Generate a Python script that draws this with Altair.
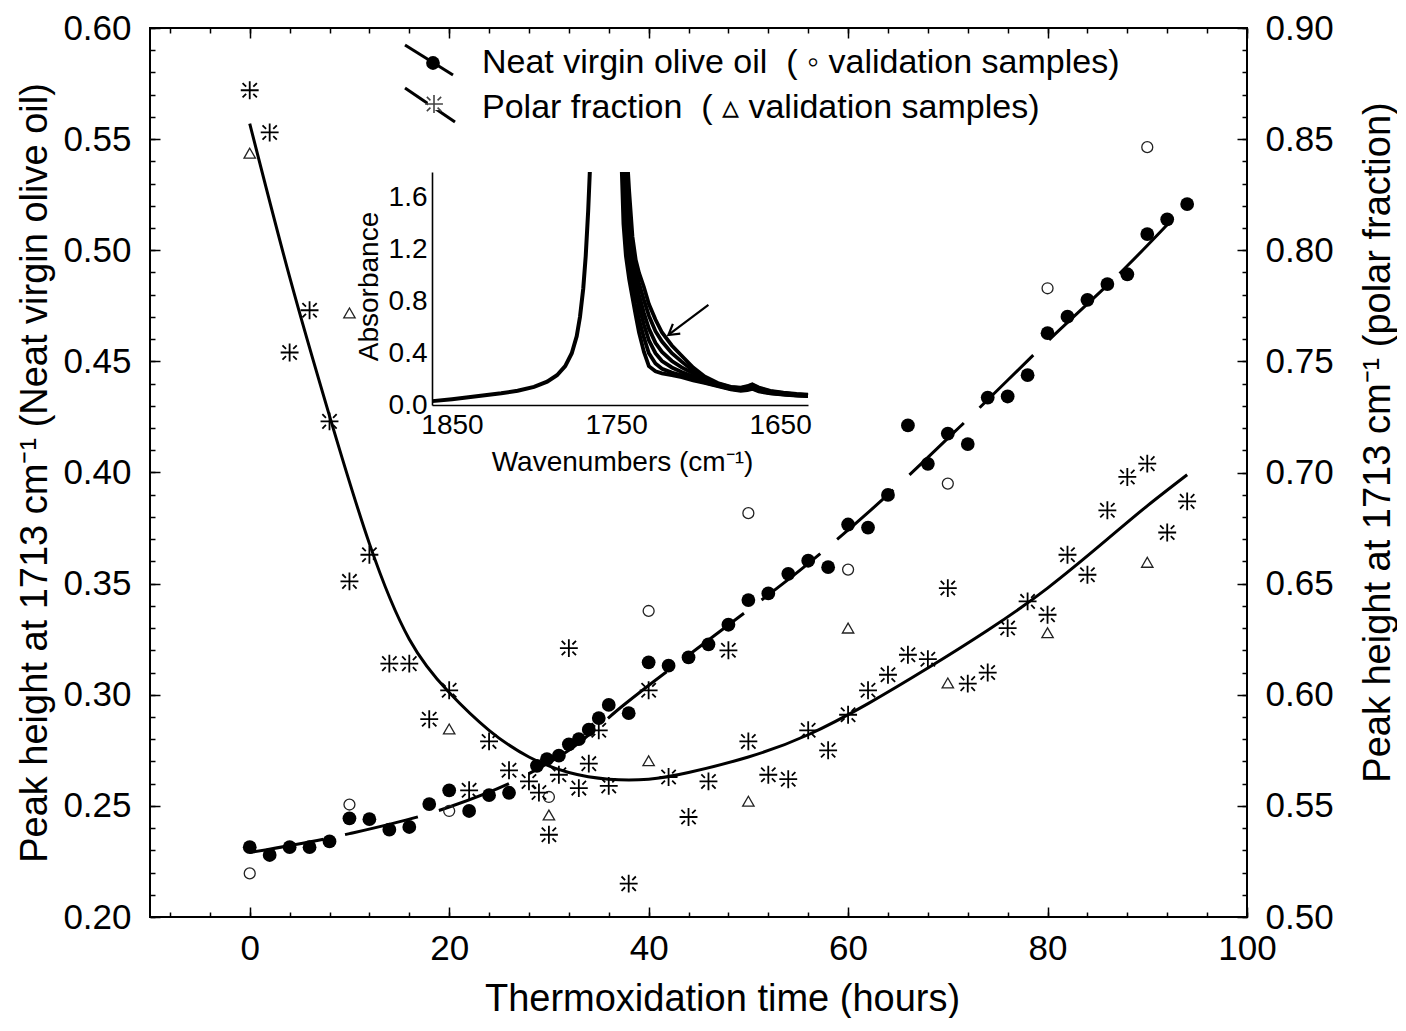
import altair as alt
import pandas as pd

FONT = "Liberation Sans"
W, H = 1097, 889

# ---------------- axes / ticks ----------------
X_DOMAIN = [-10, 100]
YL_DOMAIN = [0.2, 0.6]
YR_DOMAIN = [0.5, 0.9]
X_MINOR_TICKS = list(range(-8, 101, 4))
X_MAJOR_TICKS = [0, 20, 40, 60, 80, 100]
YL_MINOR_TICKS = [round(0.20 + 0.01 * i, 2) for i in range(41)]
YL_MAJOR_TICKS = [0.20, 0.25, 0.30, 0.35, 0.40, 0.45, 0.50, 0.55, 0.60]
YR_MINOR_TICKS = [round(0.50 + 0.01 * i, 2) for i in range(41)]
YR_MAJOR_TICKS = [0.50, 0.55, 0.60, 0.65, 0.70, 0.75, 0.80, 0.85, 0.90]

# ---------------- neat virgin olive oil ----------------
NEAT_T = [0, 2, 4, 6, 8, 10, 12, 14, 16, 18, 20, 22, 24, 26,
          28.8, 29.8, 31, 32, 33, 34, 35, 36,
          38, 40, 42, 44, 46, 48, 50, 52, 54, 56, 58, 60, 62, 64, 66, 68, 70,
          72, 74, 76, 78, 80, 82, 84, 86, 88, 90, 92, 94]
NEAT_Y = [0.2314, 0.2279, 0.2314, 0.2314, 0.234, 0.2444, 0.244, 0.2393, 0.2405, 0.2508,
          0.257, 0.2477, 0.2548, 0.2559,
          0.268, 0.271, 0.2726, 0.2777, 0.28, 0.2843, 0.2895, 0.2954,
          0.2917, 0.3146, 0.3131, 0.3168, 0.3227, 0.3315, 0.3426, 0.3456, 0.3544, 0.3603,
          0.3574, 0.3766, 0.3752, 0.3899, 0.4212, 0.4039, 0.4175, 0.4128, 0.4337, 0.4342,
          0.4438, 0.4627, 0.4701, 0.4777, 0.4848, 0.4892, 0.5073, 0.5139, 0.5208]
NEAT_FIT_T = [0, 10, 20, 28, 32, 37.5, 47, 56, 64, 72, 80, 88, 94]
NEAT_FIT_Y = [0.229, 0.2375, 0.2495, 0.2645, 0.275, 0.2954, 0.328, 0.359, 0.39, 0.424, 0.459, 0.493, 0.521]

# ---------------- polar fraction ----------------
POLAR_T = [0, 2, 4, 6, 8, 10, 12, 14, 16, 18, 20, 22, 24, 26, 28, 29, 30, 31, 32, 33, 34, 35, 36,
           38, 40, 42, 44, 46, 48, 50, 52, 54, 56, 58, 60, 62, 64, 66, 68, 70, 72, 74, 76, 78,
           80, 82, 84, 86, 88, 90, 92, 94]
POLAR_Y = [0.872, 0.853, 0.754, 0.773, 0.723, 0.651, 0.663, 0.614, 0.614, 0.589, 0.602, 0.557,
           0.579, 0.566, 0.561, 0.556, 0.537, 0.564, 0.621, 0.558, 0.569, 0.584, 0.559,
           0.515, 0.602, 0.563, 0.545, 0.561, 0.620, 0.579, 0.564, 0.562, 0.584, 0.575, 0.591,
           0.602, 0.609, 0.618, 0.616, 0.648, 0.605, 0.610, 0.630, 0.642, 0.636, 0.663, 0.654,
           0.683, 0.698, 0.704, 0.673, 0.687]
POLAR_FIT_T = [0, 4, 8, 12, 16, 20, 24, 28, 32, 36, 40, 44, 50, 56, 62, 68, 74, 80, 86, 90, 94]
POLAR_FIT_Y = [0.857, 0.788, 0.7255, 0.668, 0.625, 0.601, 0.584, 0.572, 0.565, 0.562, 0.562,
               0.565, 0.572, 0.582, 0.596, 0.612, 0.629, 0.648, 0.670, 0.685, 0.699]

# ---------------- validation samples ----------------
VAL_T = [0, 10, 20, 30, 40, 50, 60, 70, 80, 90]
VAL_NEAT = [0.2196, 0.2506, 0.2477, 0.254, 0.3377, 0.3817, 0.3563, 0.395, 0.4829, 0.5464]
VAL_POLAR = [0.8437, 0.7718, 0.5846, 0.5459, 0.5703, 0.5521, 0.630, 0.6053, 0.6279, 0.6596]

# ---------------- inset spectra ----------------
INSET_X_DOMAIN = [1862.2, 1633]
INSET_Y_DOMAIN = [0, 1.8]
INSET_X_TICKS = [1850, 1750, 1650]
INSET_Y_TICKS = [0.0, 0.4, 0.8, 1.2, 1.6]
INSET_LEFT_WN = [1862, 1850, 1840, 1830, 1820, 1810, 1800, 1792, 1786, 1781, 1777, 1774,
                 1772, 1770, 1768.5, 1767, 1766]
INSET_LEFT_A = [0.03, 0.045, 0.06, 0.075, 0.09, 0.11, 0.14, 0.18, 0.23, 0.30, 0.40, 0.53,
                0.68, 0.90, 1.15, 1.50, 1.80]
INSET_RIGHT_WN = [1742, 1740, 1738, 1736, 1733, 1730, 1726, 1722, 1716, 1710, 1703, 1696,
                  1688, 1680, 1674, 1670, 1667, 1663, 1656, 1648, 1640, 1633]
CURVE_HEAD_WN = [[1746.5, 1745.5, 1744.0], [1745.8, 1744.5, 1743.0], [1745.0, 1743.5],
                 [1744.3, 1743.0], [1743.5], [1742.7]]
CURVE_HEAD_A = [[1.80, 1.40, 1.15], [1.80, 1.45, 1.20], [1.80, 1.45], [1.80, 1.50], [1.80], [1.80]]
CURVE_TAIL_A = [
    [0.97, 0.83, 0.69, 0.56, 0.41, 0.30, 0.26, 0.245, 0.23, 0.215, 0.19, 0.17, 0.145, 0.12,
     0.11, 0.115, 0.125, 0.105, 0.09, 0.08, 0.072, 0.068],
    [1.10, 0.92, 0.78, 0.66, 0.52, 0.40, 0.32, 0.28, 0.25, 0.23, 0.20, 0.175, 0.15, 0.125,
     0.115, 0.12, 0.13, 0.11, 0.092, 0.082, 0.074, 0.07],
    [1.25, 1.03, 0.88, 0.76, 0.62, 0.50, 0.40, 0.34, 0.29, 0.255, 0.22, 0.185, 0.155, 0.13,
     0.12, 0.125, 0.14, 0.115, 0.095, 0.085, 0.076, 0.072],
    [1.38, 1.12, 0.96, 0.85, 0.71, 0.59, 0.48, 0.41, 0.34, 0.29, 0.245, 0.20, 0.16, 0.133,
     0.125, 0.13, 0.145, 0.12, 0.10, 0.088, 0.078, 0.074],
    [1.50, 1.20, 1.04, 0.94, 0.81, 0.69, 0.57, 0.49, 0.40, 0.335, 0.265, 0.21, 0.165, 0.137,
     0.13, 0.14, 0.155, 0.13, 0.105, 0.092, 0.082, 0.077],
    [1.65, 1.30, 1.12, 1.02, 0.91, 0.78, 0.66, 0.56, 0.46, 0.38, 0.29, 0.22, 0.17, 0.14,
     0.135, 0.145, 0.16, 0.135, 0.11, 0.095, 0.085, 0.08],
]
ARROW_WN = [1693.7, 1718.1]
ARROW_A = [0.773, 0.541]

NB = "\u00a0"
LEGEND_TEXT = ["Neat virgin olive oil" + NB * 2 + "(" + NB + "\u25e6" + NB + "validation samples)",
               "Polar fraction" + NB * 2 + "(" + NB + "\u25b5" + NB + "validation samples)"]

ASTERISK = ("M0,-1L0,1M-1,0L1,0M-0.8,-0.8L-0.4,-0.4M0.4,0.4L0.8,0.8"
            "M0.8,-0.8L0.4,-0.4M-0.4,0.4L-0.8,0.8")
ARROWHEAD = "M-0.6,-1L0,0L0.6,-1"

# ---------------- data frames ----------------
neat_df = pd.DataFrame({"t": NEAT_T, "y": NEAT_Y})
neat_fit_df = pd.DataFrame({"t": NEAT_FIT_T, "y": NEAT_FIT_Y})
polar_df = pd.DataFrame({"t": POLAR_T, "y": POLAR_Y})
polar_fit_df = pd.DataFrame({"t": POLAR_FIT_T, "y": POLAR_FIT_Y})
val_df = pd.DataFrame({"t": VAL_T, "neat": VAL_NEAT, "polar": VAL_POLAR})

left_df = pd.DataFrame({"wn": INSET_LEFT_WN, "a": INSET_LEFT_A})
rows = []
for ci in range(len(CURVE_TAIL_A)):
    wns = CURVE_HEAD_WN[ci] + INSET_RIGHT_WN
    vals = CURVE_HEAD_A[ci] + CURVE_TAIL_A[ci]
    for k, (w_, a_) in enumerate(zip(wns, vals)):
        rows.append({"curve": ci, "wn": w_, "a": a_, "k": k})
right_df = pd.DataFrame(rows)
arrow_df = pd.DataFrame({"wn1": [ARROW_WN[0]], "a1": [ARROW_A[0]],
                         "wn2": [ARROW_WN[1]], "a2": [ARROW_A[1]]})
one = pd.DataFrame({"v": [0]})

# inset frame in plot pixels
IX0, IX1 = 282, 658
IY0, IY1 = 377, 144   # bottom, top

# ---------------- scales ----------------
def xs():
    return alt.Scale(domain=X_DOMAIN, nice=False, zero=False)

def yls():
    return alt.Scale(domain=YL_DOMAIN, nice=False, zero=False)

def yrs():
    return alt.Scale(domain=YR_DOMAIN, nice=False, zero=False)

def ixs():
    return alt.Scale(domain=INSET_X_DOMAIN, range=[IX0, IX1], nice=False, zero=False)

def iys():
    return alt.Scale(domain=INSET_Y_DOMAIN, range=[IY0, IY1], nice=False, zero=False)

LAB_Y = "round(datum.value*100) % 5 == 0 ? format(datum.value, '.2f') : ''"
LAB_X = "datum.value % 20 == 0 ? datum.label : ''"

tick_common = dict(domain=False, grid=False, tickColor="black", tickWidth=1.5)
LFS = 35

ax_bottom = alt.Axis(orient="bottom", values=X_MINOR_TICKS, labelExpr=LAB_X, offset=-5,
                     tickSize=5, labelPadding=14, labelFontSize=LFS, labelOverlap=False,
                     labelFlush=False, title="Thermoxidation time (hours)", titleFontSize=38,
                     titleX=572, titleY=98, titleBaseline="alphabetic", titleAlign="center",
                     **tick_common)
ax_left = alt.Axis(orient="left", values=YL_MINOR_TICKS, labelExpr=LAB_Y, offset=-5,
                   tickSize=5, labelPadding=19, labelFontSize=LFS, labelOverlap=False,
                   labelFlush=False,
                   title="Peak height at 1713 cm\u207b\u00b9 (Neat virgin olive oil)",
                   titleFontSize=38, titleAngle=270, titleX=-109, titleY=H / 2,
                   titleBaseline="alphabetic", titleAlign="center", **tick_common)
ax_bottom_major = alt.Axis(orient="bottom", values=X_MAJOR_TICKS, labels=False, offset=-10,
                           tickSize=10, title="", **tick_common)
ax_left_major = alt.Axis(orient="left", values=YL_MAJOR_TICKS, labels=False, offset=-10,
                         tickSize=10, title="", **tick_common)
ax_top = alt.Axis(orient="top", values=X_MINOR_TICKS, labels=False, offset=-5, tickSize=5,
                  title="", **tick_common)
ax_top_major = alt.Axis(orient="top", values=X_MAJOR_TICKS, labels=False, offset=-10,
                        tickSize=10, title="", **tick_common)
ax_right = alt.Axis(orient="right", values=YR_MINOR_TICKS, labelExpr=LAB_Y, offset=-5,
                    tickSize=5, labelPadding=18, labelFontSize=LFS, labelOverlap=False,
                    labelFlush=False,
                    title="Peak height at 1713 cm\u207b\u00b9 (polar fraction)",
                    titleFontSize=38, titleAngle=270, titleX=147, titleY=414,
                    titleBaseline="alphabetic", titleAlign="center", **tick_common)
ax_right_major = alt.Axis(orient="right", values=YR_MAJOR_TICKS, labels=False, offset=-10,
                          tickSize=10, title="", **tick_common)

ax_inset_x = alt.Axis(orient="bottom", values=INSET_X_TICKS, format="d", offset=-(H - IY0),
                      ticks=False, tickSize=0, labelPadding=6, labelFontSize=28,
                      labelFlush=False, labelOverlap=False, domain=True, domainColor="black",
                      domainWidth=1.6, grid=False, title="Wavenumbers (cm\u207b\u00b9)",
                      titleFontSize=28, titleX=472, titleY=65, titleBaseline="alphabetic",
                      titleAlign="center")
ax_inset_y = alt.Axis(orient="left", values=INSET_Y_TICKS, format=".1f", offset=-IX0,
                      ticks=False, tickSize=0, labelPadding=5, labelFontSize=28,
                      labelFlush=False, labelOverlap=False, domain=True, domainColor="black",
                      domainWidth=1.6, grid=False, title="Absorbance", titleFontSize=28,
                      titleAngle=270, titleX=-55, titleY=258, titleBaseline="alphabetic",
                      titleAlign="center")

# ---------------- layers ----------------
neat_fit = alt.Chart(neat_fit_df).mark_line(
    color="black", strokeWidth=3, strokeDash=[75, 22], interpolate="monotone").encode(
    x=alt.X("t:Q", scale=xs(), axis=ax_bottom),
    y=alt.Y("y:Q", scale=yls(), axis=ax_left))

neat_pts = alt.Chart(neat_df).mark_point(
    shape="circle", filled=True, size=190, color="black", opacity=1).encode(
    x=alt.X("t:Q", scale=xs(), axis=ax_bottom_major),
    y=alt.Y("y:Q", scale=yls(), axis=ax_left_major))

neat_val = alt.Chart(val_df).mark_point(
    shape="circle", filled=False, size=120, color="#222222", strokeWidth=1.3, opacity=1).encode(
    x=alt.X("t:Q", scale=xs(), axis=None),
    y=alt.Y("neat:Q", scale=yls(), axis=None))

polar_fit = alt.Chart(polar_fit_df).mark_line(
    color="black", strokeWidth=3, interpolate="natural").encode(
    x=alt.X("t:Q", scale=xs(), axis=ax_top),
    y=alt.Y("y:Q", scale=yrs(), axis=ax_right))

polar_pts = alt.Chart(polar_df).mark_point(
    shape=ASTERISK, filled=False, size=320, color="black", strokeWidth=1.8, opacity=1).encode(
    x=alt.X("t:Q", scale=xs(), axis=ax_top_major),
    y=alt.Y("y:Q", scale=yrs(), axis=ax_right_major))

polar_val = alt.Chart(val_df).mark_point(
    shape="triangle-up", filled=False, size=130, color="#222222", strokeWidth=1.3,
    opacity=1).encode(
    x=alt.X("t:Q", scale=xs(), axis=None),
    y=alt.Y("polar:Q", scale=yrs(), axis=None))

inset_left = alt.Chart(left_df).mark_line(color="black", strokeWidth=4).encode(
    x=alt.X("wn:Q", scale=ixs(), axis=ax_inset_x),
    y=alt.Y("a:Q", scale=iys(), axis=ax_inset_y))

inset_right = alt.Chart(right_df).mark_line(color="black", strokeWidth=3.8).encode(
    x=alt.X("wn:Q", scale=ixs(), axis=None),
    y=alt.Y("a:Q", scale=iys(), axis=None),
    detail="curve:N",
    order="k:Q")

arrow_line = alt.Chart(arrow_df).mark_rule(color="black", strokeWidth=2.2).encode(
    x=alt.X("wn1:Q", scale=ixs(), axis=None),
    x2="wn2:Q",
    y=alt.Y("a1:Q", scale=iys(), axis=None),
    y2="a2:Q")

arrow_head = alt.Chart(arrow_df).mark_point(
    shape=ARROWHEAD, filled=False, size=420, color="black", strokeWidth=2.2, angle=53,
    opacity=1).encode(
    x=alt.X("wn2:Q", scale=ixs(), axis=None),
    y=alt.Y("a2:Q", scale=iys(), axis=None))

# legend (decoration placed in pixels)
leg_line1 = alt.Chart(one).mark_rule(color="black", strokeWidth=3).encode(
    x=alt.value(255), x2=alt.value(303), y=alt.value(17), y2=alt.value(47))
leg_dot = alt.Chart(one).mark_point(shape="circle", filled=True, size=190, color="black",
                                    opacity=1).encode(x=alt.value(283), y=alt.value(35))
leg_line2 = alt.Chart(one).mark_rule(color="black", strokeWidth=3).encode(
    x=alt.value(255), x2=alt.value(305), y=alt.value(60), y2=alt.value(94))
leg_star_bg = alt.Chart(one).mark_point(shape="square", filled=True, size=150, color="white",
                                        opacity=1).encode(x=alt.value(284), y=alt.value(76))
leg_star = alt.Chart(one).mark_point(shape=ASTERISK, filled=False, size=320, color="#444444",
                                     strokeWidth=1.6, opacity=1).encode(
    x=alt.value(284), y=alt.value(76))
leg_text1 = alt.Chart(one).mark_text(align="left", baseline="middle", fontSize=34, font=FONT,
                                     color="black", text=LEGEND_TEXT[0]).encode(
    x=alt.value(332), y=alt.value(35))
leg_text2 = alt.Chart(one).mark_text(align="left", baseline="middle", fontSize=34, font=FONT,
                                     color="black", text=LEGEND_TEXT[1]).encode(
    x=alt.value(332), y=alt.value(80))

chart = alt.layer(
    neat_fit, polar_fit, neat_pts, neat_val, polar_pts, polar_val,
    inset_left, inset_right, arrow_line, arrow_head,
    leg_line1, leg_dot, leg_line2, leg_star_bg, leg_star, leg_text1, leg_text2,
).resolve_scale(
    x="independent", y="independent"
).properties(
    width=W, height=H,
    autosize=alt.AutoSizeParams(type="none"),
    padding={"left": 142, "top": 20, "right": 150, "bottom": 101},
    background="white",
).configure_view(
    stroke="black", strokeWidth=2
).configure_axis(
    labelFont=FONT, titleFont=FONT, labelColor="black", titleColor="black",
    titleFontWeight="normal"
)

chart.save("out.html", embed_options={"renderer": "svg", "actions": False})
